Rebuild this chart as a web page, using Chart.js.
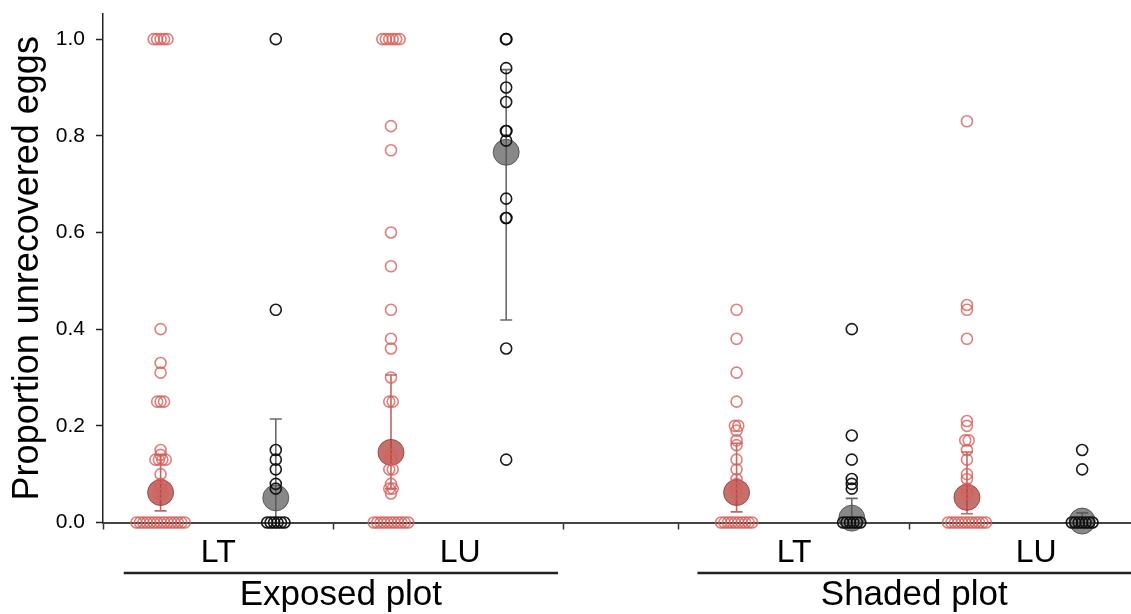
<!DOCTYPE html>
<html>
<head>
<meta charset="utf-8">
<script src="https://cdn.jsdelivr.net/npm/chart.js@4/dist/chart.umd.min.js"></script>
<style>
  html, body { margin: 0; padding: 0; background: #ffffff; }
  #wrap { width: 1131px; height: 614px; }
</style>
</head>
<body>
<div id="wrap"><canvas id="c" width="1131" height="614"></canvas></div>
<script>
// ---------- DATA ----------
const plotLabels = ['Exposed plot', 'Shaded plot'];
const speciesLabels = ['LT', 'LU', 'LT', 'LU'];
const yTickValues = [0, 0.2, 0.4, 0.6, 0.8, 1.0];

// slot index of each group on the x axis (slot 4 is the gap between plots)
const groupSlots = [0, 1, 2, 3, 5, 6, 7, 8];
const groupKinds = ['red', 'black', 'red', 'black', 'red', 'black', 'red', 'black'];

// individual proportions per group
const exposedLT_red = [1, 1, 1, 1, 1, 0.40, 0.33, 0.31, 0.25, 0.25, 0.25, 0.15, 0.14, 0.13, 0.13, 0.13, 0.13, 0.10, 0.08, 0.07, 0.06, 0.06,
  0, 0, 0, 0, 0, 0, 0, 0, 0, 0, 0, 0, 0, 0, 0];
const exposedLT_black = [1.0, 0.44, 0.15, 0.13, 0.11, 0.08, 0.07, 0, 0, 0, 0, 0, 0];
const exposedLU_red = [1, 1, 1, 1, 1, 1, 0.82, 0.77, 0.60, 0.53, 0.44, 0.38, 0.36, 0.30, 0.25, 0.25, 0.14, 0.13, 0.11, 0.11, 0.08, 0.07, 0.07, 0.06,
  0, 0, 0, 0, 0, 0, 0, 0, 0, 0, 0];
const exposedLU_black = [1.0, 1.0, 0.94, 0.90, 0.87, 0.81, 0.81, 0.79, 0.67, 0.63, 0.63, 0.36, 0.13];
const shadedLT_red = [0.44, 0.38, 0.31, 0.25, 0.20, 0.20, 0.19, 0.17, 0.16, 0.13, 0.11, 0.09, 0.08, 0.07, 0.06,
  0, 0, 0, 0, 0, 0, 0, 0, 0, 0];
const shadedLT_black = [0.40, 0.18, 0.13, 0.09, 0.08, 0.07, 0, 0, 0, 0, 0, 0];
const shadedLU_red = [0.83, 0.45, 0.44, 0.38, 0.21, 0.20, 0.17, 0.17, 0.15, 0.13, 0.10, 0.09, 0.07, 0.06,
  0, 0, 0, 0, 0, 0, 0, 0, 0, 0, 0, 0];
const shadedLU_black = [0.15, 0.11, 0, 0, 0, 0, 0, 0, 0];

const groupValues = [exposedLT_red, exposedLT_black, exposedLU_red, exposedLU_black,
  shadedLT_red, shadedLT_black, shadedLU_red, shadedLU_black];

// group means and error bars
const groupMeans = [0.062, 0.051, 0.145, 0.766, 0.062, 0.009, 0.052, 0.003];
const errLow     = [0.024, 0.000, 0.070, 0.419, 0.022, 0.000, 0.018, 0.000];
const errHigh    = [0.140, 0.214, 0.305, 0.937, 0.164, 0.050, 0.146, 0.020];

// ---------- STYLE ----------
const FONT = "'Liberation Sans', Arial, sans-serif";
const styles = {
  red:   { pt: 'rgba(214, 96, 90, 0.8)', mean: 'rgba(176, 64, 60, 0.75)', meanBorder: 'rgba(160, 55, 50, 0.85)', err: 'rgba(185, 75, 70, 0.85)' },
  black: { pt: 'rgba(15, 15, 15, 0.95)', mean: 'rgba(85, 85, 85, 0.7)', meanBorder: 'rgba(70, 70, 70, 0.8)', err: 'rgba(80, 80, 80, 0.85)' }
};

// horizontal spread for tied values (dot-plot style)
function swarm(slot, vals, kind) {
  const counts = {};
  vals.forEach(v => { counts[v] = (counts[v] || 0) + 1; });
  const seen = {};
  return vals.map(v => {
    const step = (kind === 'black' && v !== 0) ? 0.004 : 0.03;
    const k = counts[v];
    const j = seen[v] = (seen[v] === undefined ? 0 : seen[v] + 1);
    return { x: slot + (j - (k - 1) / 2) * step, y: v };
  });
}

const pointSets = groupValues.map((vals, i) => ({
  type: 'scatter',
  data: swarm(groupSlots[i], vals, groupKinds[i]),
  pointRadius: 5.5,
  pointBorderWidth: 1.6,
  pointBackgroundColor: 'rgba(0,0,0,0)',
  pointBorderColor: styles[groupKinds[i]].pt,
  clip: false
}));

const meanSets = ['red', 'black'].map(kind => ({
  type: 'scatter',
  data: groupMeans.map((m, i) => ({ x: groupSlots[i], y: m })).filter((d, i) => groupKinds[i] === kind),
  pointRadius: 13,
  pointBorderWidth: 1,
  pointBackgroundColor: styles[kind].mean,
  pointBorderColor: styles[kind].meanBorder,
  clip: false
}));

const errorBarPlugin = {
  id: 'errorBars',
  beforeDatasetsDraw(chart) {
    const { ctx, scales: { x, y } } = chart;
    ctx.save();
    groupMeans.forEach((m, i) => {
      const px = x.getPixelForValue(groupSlots[i]);
      const lo = y.getPixelForValue(errLow[i]);
      const hi = y.getPixelForValue(errHigh[i]);
      ctx.strokeStyle = styles[groupKinds[i]].err;
      ctx.lineWidth = 1.6;
      ctx.beginPath();
      ctx.moveTo(px, lo); ctx.lineTo(px, hi);
      ctx.moveTo(px - 6, hi); ctx.lineTo(px + 6, hi);
      ctx.moveTo(px - 6, lo); ctx.lineTo(px + 6, lo);
      ctx.stroke();
    });
    ctx.restore();
  }
};

const groupLabelPlugin = {
  id: 'groupLabels',
  afterDraw(chart, args, opts) {
    const { ctx, scales: { x } } = chart;
    ctx.save();
    ctx.fillStyle = '#000';
    ctx.textAlign = 'center';
    ctx.textBaseline = 'middle';
    ctx.font = '32px ' + FONT;
    speciesLabels.forEach((t, i) => {
      ctx.fillText(t, x.getPixelForValue(opts.speciesAt[i]), opts.speciesY);
    });
    ctx.font = '35px ' + FONT;
    plotLabels.forEach((t, i) => {
      const a = x.getPixelForValue(opts.lines[i][0]);
      const b = Math.min(x.getPixelForValue(opts.lines[i][1]), chart.width);
      ctx.fillText(t, (a + b) / 2, opts.plotY);
      ctx.strokeStyle = '#222';
      ctx.lineWidth = 2.5;
      ctx.beginPath();
      ctx.moveTo(a, opts.lineY); ctx.lineTo(b, opts.lineY);
      ctx.stroke();
    });
    ctx.restore();
  }
};

const majorTicks = [-0.5, 1.5, 3.5, 4.5, 6.5];

new Chart(document.getElementById('c'), {
  type: 'scatter',
  data: { datasets: [...pointSets, ...meanSets] },
  options: {
    responsive: false,
    animation: false,
    events: [],
    layout: { autoPadding: false, padding: { top: 14, right: 0, left: 0, bottom: 0 } },
    plugins: {
      legend: { display: false },
      tooltip: { enabled: false },
      groupLabels: {
        speciesAt: [0.5, 2.6, 5.5, 7.6],
        speciesY: 553,
        plotY: 595,
        lineY: 573,
        lines: [[-0.32, 3.45], [4.66, 9.0]]
      }
    },
    scales: {
      x: {
        type: 'linear',
        bounds: 'data',
        min: -0.5,
        max: 8.424,
        afterBuildTicks(scale) {
          scale.ticks = [-0.5, 0.5, 1.5, 2.5, 3.5, 4.5, 5.5, 6.5, 7.5].map(v => ({ value: v }));
        },
        afterFit(scale) {
          scale.height = 91.5;
          scale.paddingLeft = 0; scale.paddingRight = 0;
          scale.paddingTop = 0; scale.paddingBottom = 0;
        },
        ticks: { display: false },
        grid: {
          drawOnChartArea: false,
          drawTicks: true,
          tickLength: 7,
          tickWidth: 1.5,
          tickColor: (c) => majorTicks.includes(c.tick && c.tick.value) ? '#333' : 'rgba(0,0,0,0)'
        },
        border: { display: true, color: '#444', width: 2 }
      },
      y: {
        type: 'linear',
        bounds: 'data',
        min: 0,
        max: 1.052,
        afterBuildTicks(scale) {
          scale.ticks = yTickValues.map(v => ({ value: v }));
        },
        afterFit(scale) {
          scale.width = 103;
          scale.paddingLeft = 0; scale.paddingRight = 0;
          scale.paddingTop = 0; scale.paddingBottom = 0;
        },
        ticks: {
          padding: 11,
          color: '#000',
          font: { family: FONT, size: 21 },
          callback: (v) => Number(v).toFixed(1)
        },
        grid: { drawOnChartArea: false, tickLength: 7, tickWidth: 1.5, tickColor: '#222' },
        border: { display: true, color: '#222', width: 1.5 },
        title: {
          display: true,
          text: 'Proportion unrecovered eggs',
          color: '#000',
          font: { family: FONT, size: 36, lineHeight: 1.2 },
          padding: { top: 6, bottom: 0 }
        }
      }
    }
  },
  plugins: [errorBarPlugin, groupLabelPlugin]
});
</script>
</body>
</html>
